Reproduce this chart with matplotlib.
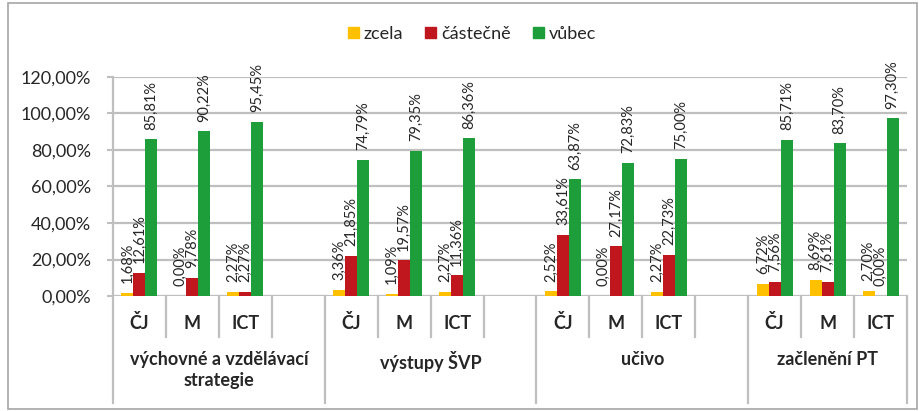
import matplotlib
matplotlib.use("Agg")
import matplotlib.pyplot as plt
import matplotlib.transforms as mtransforms
from matplotlib.patches import Rectangle, Patch
import numpy as np

plt.rcParams['font.family'] = ['Lato', 'DejaVu Sans']

groups = ['výchovné a vzdělávací\nstrategie', 'výstupy ŠVP', 'učivo', 'začlenění PT']
subjects = ['ČJ', 'M', 'ICT']
series = ['zcela', 'částečně', 'vůbec']
zcela = [1.68, 0.00, 2.27, 3.36, 1.09, 2.27, 2.52, 0.00, 2.27, 6.72, 8.69, 2.70]
castecne = [12.61, 9.78, 2.27, 21.85, 19.57, 11.36, 33.61, 27.17, 22.73, 7.56, 7.61, 0.00]
vubec = [85.81, 90.22, 95.45, 74.79, 79.35, 86.36, 63.87, 72.83, 75.00, 85.71, 83.70, 97.30]
yticks = [0, 20, 40, 60, 80, 100, 120]
colors = ['#FFC000', '#C0161E', '#1E9E3A']

TXT = '#262626'
GRID = '#BFBFBF'

fig = plt.figure(figsize=(9.2, 4.11), dpi=100)
W, H = 920, 411
left, right, top_px, bot_px = 113, 907, 77, 296
ax = fig.add_axes([left / W, 1 - bot_px / H, (right - left) / W, (bot_px - top_px) / H])

# outer frame
fig.patches.append(Rectangle((8 / W, 2 / H), (917 - 8) / W, (408 - 2) / H,
                             transform=fig.transFigure, fill=False,
                             edgecolor='#A6A6A6', linewidth=1.2))

nslots = 15
slot_x = [g * 4 + s for g in range(len(groups)) for s in range(len(subjects))]
bw = 0.227
data = [zcela, castecne, vubec]
for k, (vals, col, name) in enumerate(zip(data, colors, series)):
    xs = [x + (k - 1) * bw for x in slot_x]
    ax.bar(xs, vals, width=bw, color=col, label=name, zorder=3)
    for x, v in zip(xs, vals):
        ax.annotate(f"{v:.2f}".replace('.', ',') + '%', (x, v), xytext=(0, 7),
                    textcoords='offset points', rotation=90, ha='center', va='bottom',
                    fontsize=10.5, color=TXT, zorder=4)

ax.set_xlim(-0.5, nslots - 0.5)
ax.set_ylim(0, 120)
ax.set_yticks(yticks)
ax.set_yticklabels([f"{t:.2f}".replace('.', ',') + '%' for t in yticks], fontsize=13, color=TXT)
ax.yaxis.grid(True, color=GRID, linewidth=1.6, zorder=0)
ax.set_axisbelow(True)
ax.tick_params(axis='y', length=4, width=1.5, color=GRID, pad=12)
ax.set_xticks([])
for s in ['top', 'right', 'bottom']:
    ax.spines[s].set_visible(False)
ax.spines['left'].set_color(GRID)
ax.spines['left'].set_linewidth(1.6)

# category axis
trans = mtransforms.blended_transform_factory(ax.transData, ax.transAxes)
ah = bot_px - top_px
minor_y = -41 / ah
major_y = -107 / ah
major_seps = [-0.5, 3.5, 7.5, 11.5, 14.5]
for b in major_seps:
    ax.plot([b, b], [0, major_y], transform=trans, color=GRID, lw=1.6, clip_on=False)
for g in range(len(groups)):
    start = g * 4
    nsl = 4 if g < len(groups) - 1 else 3
    for j in range(1, nsl):
        xb = start - 0.5 + j
        ax.plot([xb, xb], [0, minor_y], transform=trans, color=GRID, lw=1.6, clip_on=False)
    for s, name in enumerate(subjects):
        ax.text(start + s, -27 / ah, name, transform=trans, ha='center', va='center',
                fontsize=13, fontweight='bold', color=TXT)
    gc = (major_seps[g] + major_seps[g + 1]) / 2
    ax.text(gc, -55 / ah, groups[g], transform=trans, ha='center', va='top',
            fontsize=13, fontweight='bold', color=TXT, linespacing=1.3)

handles = [Patch(color=c, label=n) for c, n in zip(colors, series)]
fig.legend(handles=handles, loc='center', bbox_to_anchor=(472 / W, 1 - 34 / H), ncol=3,
           frameon=False, fontsize=13, handlelength=0.6, handleheight=0.6,
           handletextpad=0.3, columnspacing=1.2, labelcolor=TXT)

fig.savefig('out.png', dpi=100)
